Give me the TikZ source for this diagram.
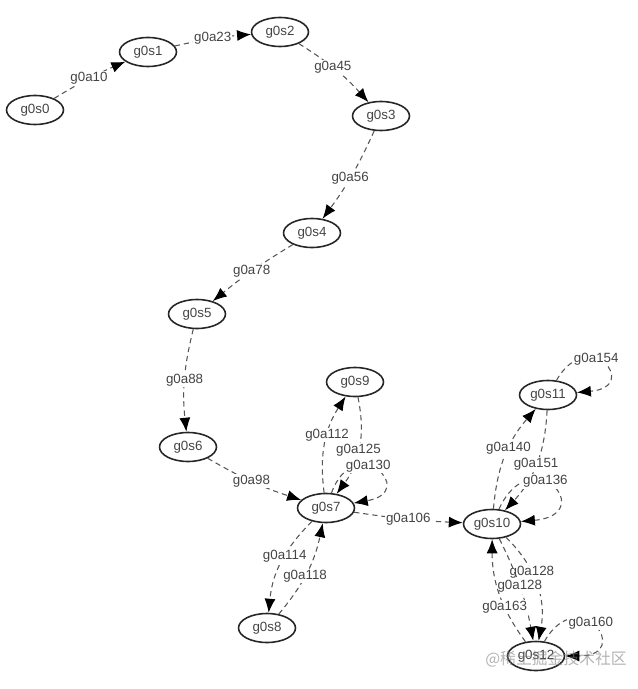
\documentclass[tikz,border=0pt]{standalone}
\usepackage{fontspec}
\setmainfont{Liberation Sans}
\newfontfamily\cjk{Noto Sans CJK SC}
\usetikzlibrary{arrows.meta,shapes.geometric}
\definecolor{edgegray}{HTML}{555555}
\definecolor{textgray}{HTML}{444444}
\tikzset{
  state/.style={draw=black!85,line width=0.9pt,ellipse,minimum width=1.14cm,minimum height=0.58cm,inner sep=0pt,
    text=textgray,font=\fontsize{7.6}{9}\selectfont},
  trans/.style={draw=edgegray,dashed,dash pattern=on 3pt off 2.2pt,line width=0.6pt,
    -{Latex[length=2.8mm,width=2.2mm,color=black]}},
  lbl/.style={fill=white,inner sep=0.6pt,text=textgray,font=\fontsize{7.6}{9}\selectfont}
}
\begin{document}
\begin{tikzpicture}[x=0.02cm,y=0.02cm]
\useasboundingbox (0,0) rectangle (637,-689);
% states
\node[state] (s0) at (35,-110) {g0s0};
\node[state] (s1) at (148,-52) {g0s1};
\node[state] (s2) at (280,-32) {g0s2};
\node[state] (s3) at (381,-116) {g0s3};
\node[state] (s4) at (312,-233) {g0s4};
\node[state] (s5) at (197,-314) {g0s5};
\node[state] (s6) at (188,-447) {g0s6};
\node[state] (s7) at (326,-508) {g0s7};
\node[state] (s8) at (267,-628) {g0s8};
\node[state] (s9) at (355,-382) {g0s9};
\node[state] (s10) at (492,-524) {g0s10};
\node[state] (s11) at (548,-395) {g0s11};
\node[state] (s12) at (536,-656) {g0s12};
% the chain
\draw[trans] (s0) to[bend left=4] node[lbl] {g0a10} (s1);
\draw[trans] (s1) to[bend left=4] node[lbl] {g0a23} (s2);
\draw[trans] (s2) to[bend left=8] node[lbl,pos=.45] {g0a45} (s3);
\draw[trans] (s3) to[bend left=6] node[lbl,pos=.52] {g0a56} (s4);
\draw[trans] (s4) to[bend right=4] node[lbl] {g0a78} (s5);
\draw[trans] (s5) to[bend right=10] node[lbl] {g0a88} (s6);
\draw[trans] (s6) to[bend right=6] node[lbl,pos=.48] {g0a98} (s7);
\draw[trans] (s7) to[bend right=3] node[lbl] {g0a106} (s10);
% around g0s7
\draw[trans] (s7) to[bend left=20] node[lbl,pos=.58] {g0a112} (s9);
\draw[trans] (s9) to[bend left=24] node[lbl,pos=.52] {g0a125} (s7);
\draw[trans] (s7) to[out=70,in=10,looseness=7] node[lbl,pos=.4] {g0a130} (s7);
\draw[trans] (s7) to[bend right=20] node[lbl,pos=.42] {g0a114} (s8);
\draw[trans] (s8) to[bend right=14] node[lbl,pos=.45] {g0a118} (s7);
% around g0s10
\draw[trans] (s10) to[bend left=18] node[lbl,pos=.57] {g0a140} (s11);
\draw[trans] (s11) to[bend left=20] node[lbl,pos=.5] {g0a151} (s10);
\draw[trans] (s10) to[out=65,in=5,looseness=8] node[lbl,pos=.42] {g0a136} (s10);
\draw[trans] (s11) to[out=60,in=5,looseness=7] node[lbl,pos=.4] {g0a154} (s11);
\draw[trans] (s10) to[bend left=28] node[lbl,pos=.38] {g0a128} (s12);
\draw[trans] (s10) to[bend left=8] node[lbl,pos=.48] {g0a128} (s12);
\draw[trans] (s12) to[bend left=18] node[lbl,pos=.36] {g0a163} (s10);
\draw[trans] (s12) to[out=60,in=0,looseness=7] node[lbl,pos=.45] {g0a160} (s12);
% watermark
\node[text=gray,opacity=0.6,font=\cjk\fontsize{9}{10}\selectfont] (wm) at (556,-659) {@稀土掘金技术社区};
\end{tikzpicture}
\end{document}
